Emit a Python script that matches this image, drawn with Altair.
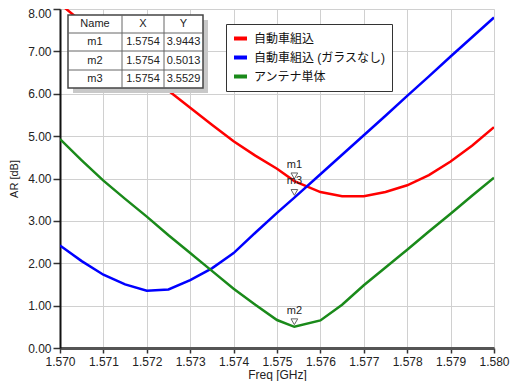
import altair as alt
import pandas as pd

# ---- data ----
freq = [1.5700, 1.5705, 1.5710, 1.5715, 1.5720, 1.5725, 1.5730, 1.5735, 1.5740, 1.5745,
        1.5750, 1.5754, 1.5760, 1.5765, 1.5770, 1.5775, 1.5780, 1.5785, 1.5790, 1.5795, 1.5800]
ar_car = [8.12, 7.70, 7.29, 6.88, 6.47, 6.07, 5.67, 5.27, 4.88, 4.54,
          4.23, 3.94, 3.68, 3.58, 3.58, 3.68, 3.84, 4.08, 4.40, 4.78, 5.21]
ar_noglass = [2.42, 2.05, 1.73, 1.50, 1.35, 1.38, 1.60, 1.88, 2.24, 2.72,
              3.19, 3.55, 4.10, 4.56, 5.02, 5.48, 5.95, 6.41, 6.88, 7.34, 7.80]
ar_ant = [4.93, 4.43, 3.95, 3.52, 3.10, 2.66, 2.24, 1.82, 1.40, 1.02,
          0.66, 0.50, 0.65, 1.02, 1.48, 1.90, 2.32, 2.75, 3.17, 3.60, 4.02]
series = ["自動車組込", "自動車組込 (ガラスなし)", "アンテナ単体"]
colors = ["#ff0000", "#0000ff", "#1a8a1a"]

marker_names = ["m1", "m2", "m3"]
marker_x = [1.5754, 1.5754, 1.5754]
marker_y = [3.9443, 0.5013, 3.5529]

x_ticks = [round(1.570 + i * 0.0005, 4) for i in range(21)]
y_ticks = [i * 0.5 for i in range(17)]

FONT = "Liberation Sans, Noto Sans CJK JP"

rows = []
for name, vals in zip(series, [ar_car, ar_noglass, ar_ant]):
    for f, v in zip(freq, vals):
        rows.append({"freq": f, "ar": v, "series": name})
df = pd.DataFrame(rows)
mk = pd.DataFrame({"name": marker_names, "x": marker_x, "y": marker_y})

W, H = 434, 339
xscale = alt.Scale(domain=[1.570, 1.580], nice=False, zero=False)
yscale = alt.Scale(domain=[0, 8], nice=False)

major_x = "abs(datum.value*1000 - round(datum.value*1000)) < 0.001"
major_y = "abs(datum.value - round(datum.value)) < 0.001"

xaxis = alt.Axis(values=x_ticks, title="Freq [GHz]",
                 labelExpr=f"{major_x} ? format(datum.value, '.3f') : ''",
                 labelOverlap=False, labelFlush=False,
                 tickSize={"condition": {"test": major_x, "value": 5}, "value": 3},
                 tickColor="#333", tickWidth=1.5,
                 gridColor={"condition": {"test": major_x, "value": "#d0d0d0"}, "value": "#e4e4e4"},
                 domainColor="#555", domainWidth=3,
                 labelFont=FONT, labelFontSize=12, labelColor="#222", labelPadding=3,
                 titleFont=FONT, titleFontSize=12, titleFontWeight="normal", titleColor="#222",
                 titlePadding=2)
yaxis = alt.Axis(values=y_ticks, title="AR [dB]",
                 labelExpr=f"{major_y} ? format(datum.value, '.2f') : ''",
                 labelOverlap=False, labelFlush=False,
                 labelOffset={"condition": {"test": "datum.value > 7.9", "value": 4}, "value": 0},
                 tickSize={"condition": {"test": major_y, "value": 7}, "value": 4},
                 tickColor="#333", tickWidth=1.5,
                 gridColor={"condition": {"test": major_y, "value": "#d0d0d0"}, "value": "#e4e4e4"},
                 domainColor="#111", domainWidth=2,
                 labelFont=FONT, labelFontSize=12, labelColor="#222", labelPadding=2,
                 titleFont=FONT, titleFontSize=11, titleFontWeight="normal", titleColor="#222",
                 titlePadding=8)

lines = alt.Chart(df).mark_line(strokeWidth=2.5, clip=True).encode(
    x=alt.X("freq:Q", scale=xscale, axis=xaxis),
    y=alt.Y("ar:Q", scale=yscale, axis=yaxis),
    color=alt.Color("series:N", scale=alt.Scale(domain=series, range=colors),
                    sort=series,
                    legend=alt.Legend(title=None, orient="none", legendX=166, legendY=15,
                                      symbolType="stroke", symbolStrokeWidth=4, symbolSize=169,
                                      labelFont=FONT, labelFontSize=12, labelColor="#111",
                                      fillColor="white", strokeColor="#333", padding=6,
                                      rowPadding=2, labelOffset=5, labelLimit=300)),
    order=alt.Order("freq:Q"),
)

tri = alt.Chart(mk).mark_point(shape="triangle-down", filled=False, color="#222",
                               size=45, strokeWidth=1, yOffset=-5).encode(
    x=alt.X("x:Q", scale=xscale), y=alt.Y("y:Q", scale=yscale))
tri_lbl = alt.Chart(mk).mark_text(dy=-16, fontSize=11, font=FONT, color="#222").encode(
    x=alt.X("x:Q", scale=xscale), y=alt.Y("y:Q", scale=yscale), text="name:N")

# ---- marker table (page-pixel layout relative to plot origin) ----
one = alt.Data(values=[{"a": 1}])
OX, OY = 60, 9
col_edges = [68, 122, 164, 203]
row_edges = [15, 33, 51, 70, 88]
layers = []
layers.append(alt.Chart(one).mark_rect(color="#c8c8c8").encode(
    x=alt.value(col_edges[0] + 5 - OX), x2=alt.value(col_edges[-1] + 5 - OX),
    y=alt.value(row_edges[0] + 5 - OY), y2=alt.value(row_edges[-1] + 5 - OY)))
layers.append(alt.Chart(one).mark_rect(color="white", stroke="#444", strokeWidth=1.5).encode(
    x=alt.value(col_edges[0] - OX), x2=alt.value(col_edges[-1] - OX),
    y=alt.value(row_edges[0] - OY), y2=alt.value(row_edges[-1] - OY)))
for cx in col_edges[1:-1]:
    layers.append(alt.Chart(one).mark_rule(color="#666", strokeWidth=1).encode(
        x=alt.value(cx - OX), y=alt.value(row_edges[0] - OY), y2=alt.value(row_edges[-1] - OY)))
for ry in row_edges[1:-1]:
    layers.append(alt.Chart(one).mark_rule(color="#666", strokeWidth=1).encode(
        y=alt.value(ry - OY), x=alt.value(col_edges[0] - OX), x2=alt.value(col_edges[-1] - OX)))
table = [["Name", "X", "Y"]] + [[n, f"{x:.4f}", f"{y:.4f}"] for n, x, y in zip(marker_names, marker_x, marker_y)]
for r, row in enumerate(table):
    for c, txt in enumerate(row):
        cx = (col_edges[c] + col_edges[c + 1]) / 2 - OX
        cy = (row_edges[r] + row_edges[r + 1]) / 2 - OY
        layers.append(alt.Chart(one).mark_text(text=txt, fontSize=11, font=FONT, color="#222",
                                               baseline="middle", align="center").encode(
            x=alt.value(cx), y=alt.value(cy)))

chart = alt.layer(lines, tri, tri_lbl, *layers).properties(
    width=W, height=H,
    autosize=alt.AutoSizeParams(type="none"),
    padding={"left": 52, "top": 1, "right": 18, "bottom": 40},
).configure_view(stroke="#555", strokeWidth=2).configure(background="white")

chart.save("out.html", embed_options={"renderer": "svg", "actions": False})
